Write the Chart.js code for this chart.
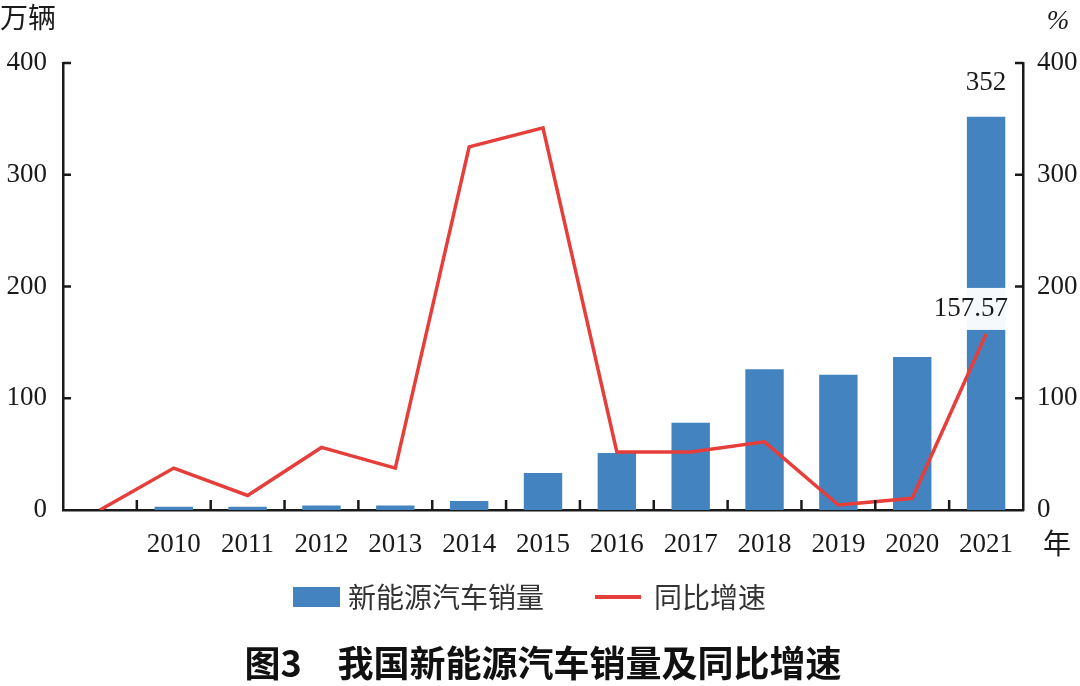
<!DOCTYPE html>
<html lang="zh">
<head>
<meta charset="utf-8">
<title>我国新能源汽车销量及同比增速</title>
<script src="https://cdn.jsdelivr.net/npm/chart.js@4.4.1/dist/chart.umd.min.js"></script>
<style>
  html, body { margin: 0; padding: 0; background: #fff; }
  #wrap { width: 1080px; height: 686px; }
</style>
</head>
<body>
<div id="wrap"><canvas id="chart" width="1080" height="686"></canvas></div>
<script>
// 第一个类别留空：折线从 0 起步
const years = ['', '2010', '2011', '2012', '2013', '2014', '2015', '2016', '2017', '2018', '2019', '2020', '2021'];
const sales = [null, 3, 3, 4, 4, 8, 33, 51, 78, 126, 121, 137, 352];           // 万辆
const growth = [0, 37.5, 13, 56, 37.5, 325, 342, 52, 52, 61, 4.5, 10.5, 157.57]; // %
const axisTicks = [0, 100, 200, 300, 400];
const seriesNames = ['新能源汽车销量', '同比增速'];
const chartTitle = '图3\u3000我国新能源汽车销量及同比增速';

const BLUE = '#4383bf';
const RED = '#e63e3b';
const INK = '#1a1a1a';
const SERIF = '"Liberation Serif", "DejaVu Serif", serif';
const CJK = '"Noto Sans CJK SC", "Noto Sans", sans-serif';

// 刻度线朝内画，外加单位、数值标注、图例和图题
const decorations = {
    id: 'decorations',
    afterDatasetsDraw(chart) {
        const ctx = chart.ctx;
        const bar = chart.getDatasetMeta(0).data[sales.length - 1];
        const pt = chart.getDatasetMeta(1).data[growth.length - 1];
        ctx.save();
        ctx.font = '27px ' + SERIF;
        ctx.fillStyle = INK;
        ctx.textAlign = 'center';
        ctx.textBaseline = 'middle';
        ctx.fillText(String(sales[sales.length - 1]), bar.x, bar.y - 34);

        // 157.57 带白底
        ctx.fillStyle = 'rgba(255,255,255,0.95)';
        ctx.fillRect(pt.x - 80, pt.y - 46, 108, 42);
        ctx.fillStyle = INK;
        ctx.textAlign = 'right';
        ctx.fillText(growth[growth.length - 1].toFixed(2), pt.x + 22, pt.y - 25);
        ctx.restore();
    },
    afterDraw(chart) {
        const { ctx, chartArea: a, scales } = chart;
        ctx.save();
        ctx.strokeStyle = INK;
        ctx.lineWidth = 2.5;
        ctx.beginPath();
        const xs = scales.x;
        for (let i = 1; i < years.length; i++) {
            const x = (xs.getPixelForTick(i - 1) + xs.getPixelForTick(i)) / 2;
            ctx.moveTo(x, a.bottom);
            ctx.lineTo(x, a.bottom - 10);
        }
        axisTicks.slice(1).forEach(v => {
            const yl = scales.y.getPixelForValue(v);
            ctx.moveTo(a.left, yl);
            ctx.lineTo(a.left + 8, yl);
            const yr = scales.y1.getPixelForValue(v);
            ctx.moveTo(a.right, yr);
            ctx.lineTo(a.right - 8, yr);
        });
        ctx.stroke();

        // 单位
        ctx.fillStyle = INK;
        ctx.textBaseline = 'middle';
        ctx.font = '28px ' + CJK;
        ctx.textAlign = 'left';
        ctx.fillText('万辆', 0, 17);
        ctx.fillText('年', a.right + 20, 543);
        ctx.font = 'italic 27px ' + SERIF;
        ctx.textAlign = 'center';
        ctx.fillText('%', 1058, 22);

        // 图例
        const ly = 597;
        ctx.fillStyle = BLUE;
        ctx.fillRect(293, ly - 10, 47, 20);
        ctx.strokeStyle = RED;
        ctx.lineWidth = 4;
        ctx.beginPath();
        ctx.moveTo(595, ly);
        ctx.lineTo(641, ly);
        ctx.stroke();
        ctx.fillStyle = '#333';
        ctx.font = '28px ' + CJK;
        ctx.textAlign = 'left';
        ctx.fillText(seriesNames[0], 348, ly);
        ctx.fillText(seriesNames[1], 654, ly);

        // 图题
        ctx.fillStyle = '#111';
        ctx.font = 'bold 36px ' + CJK;
        ctx.textAlign = 'center';
        ctx.fillText(chartTitle, 543, 663);
        ctx.restore();
    }
};

const yAxis = (pos, pad, width) => ({
    position: pos,
    min: 0,
    max: 400,
    grid: { display: false, drawTicks: false, tickLength: 0 },
    border: { display: true, color: INK, width: 2.5 },
    ticks: { stepSize: 100, padding: pad, color: INK, font: { family: SERIF, size: 27 } },
    afterFit(s) { s.width = width; }
});

new Chart(document.getElementById('chart'), {
    type: 'bar',
    data: {
        labels: years,
        datasets: [
            {
                label: seriesNames[0],
                data: sales,
                backgroundColor: BLUE,
                barPercentage: 0.52,
                categoryPercentage: 1,
                yAxisID: 'y',
                order: 2
            },
            {
                type: 'line',
                label: seriesNames[1],
                data: growth,
                borderColor: RED,
                borderWidth: 3.5,
                pointRadius: 0,
                tension: 0,
                yAxisID: 'y1',
                order: 1
            }
        ]
    },
    options: {
        responsive: false,
        animation: false,
        devicePixelRatio: 1,
        layout: { padding: { top: 63, bottom: 116, left: 0, right: 0 } },
        plugins: { legend: { display: false }, title: { display: false }, tooltip: { enabled: false } },
        scales: {
            x: {
                offset: true,
                grid: { display: false, drawTicks: false, tickLength: 0 },
                border: { display: true, color: INK, width: 2.5 },
                ticks: { padding: 19, color: INK, autoSkip: false, maxRotation: 0, font: { family: SERIF, size: 27 } },
                afterFit(s) { s.height = 60; }
            },
            y: yAxis('left', 16, 63),
            y1: yAxis('right', 14, 57)
        }
    },
    plugins: [decorations]
});
</script>
</body>
</html>
